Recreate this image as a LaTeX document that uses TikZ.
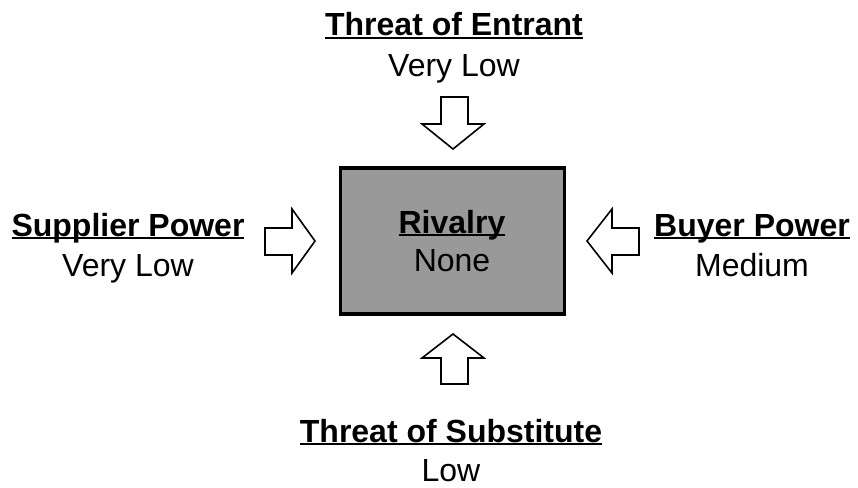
\documentclass[tikz,border=0pt]{standalone}
\usepackage{fontspec}
\setmainfont{Liberation Sans}
\newcommand\myul[1]{\setbox0\hbox{#1}\rlap{\rule[-3.2pt]{\wd0}{2.4pt}}\box0}
\begin{document}
\begin{tikzpicture}[x=1pt,y=-1pt,
  lbl/.style={anchor=base,inner sep=0pt,font=\fontsize{32}{38}\selectfont},
  head/.style={lbl,font=\fontsize{32}{38}\selectfont\bfseries},
  fatarrow/.style={draw=black,fill=white,line width=1.6pt,line join=miter}]
\useasboundingbox (0,0) rectangle (858,487);
% central box
\node[draw=black,line width=3.5pt,fill=black!40,minimum width=224pt,minimum height=146pt,inner sep=0pt] (box) at (452.5,241) {};
\node[head] (riv) at (452,233) {\myul{Rivalry}};
\node[lbl] (rivv) at (452,271) {None};
% top
\node[head] (ent) at (454,36) {\myul{Threat of Entrant}};
\node[lbl] (entv) at (454,76) {Very Low};
% left
\node[head] (sup) at (128,236) {\myul{Supplier Power}};
\node[lbl] (supv) at (128,276) {Very Low};
% right
\node[head] (buy) at (752,236) {\myul{Buyer Power}};
\node[lbl] (buyv) at (752,276) {Medium};
% bottom
\node[head] (sub) at (451,442) {\myul{Threat of Substitute}};
\node[lbl] (subv) at (451,481) {Low};
% arrows
\draw[fatarrow] (441,97) -- (468,97) -- (468,124) -- (484,124) -- (453,149) -- (422,124) -- (441,124) -- cycle;
\draw[fatarrow] (441,384) -- (468,384) -- (468,358) -- (484,358) -- (453,334) -- (422,358) -- (441,358) -- cycle;
\draw[fatarrow] (265,228) -- (292,228) -- (292,209) -- (315,241) -- (292,273) -- (292,255) -- (265,255) -- cycle;
\draw[fatarrow] (639,228) -- (612,228) -- (612,209) -- (587,241) -- (612,273) -- (612,255) -- (639,255) -- cycle;
\end{tikzpicture}
\end{document}
